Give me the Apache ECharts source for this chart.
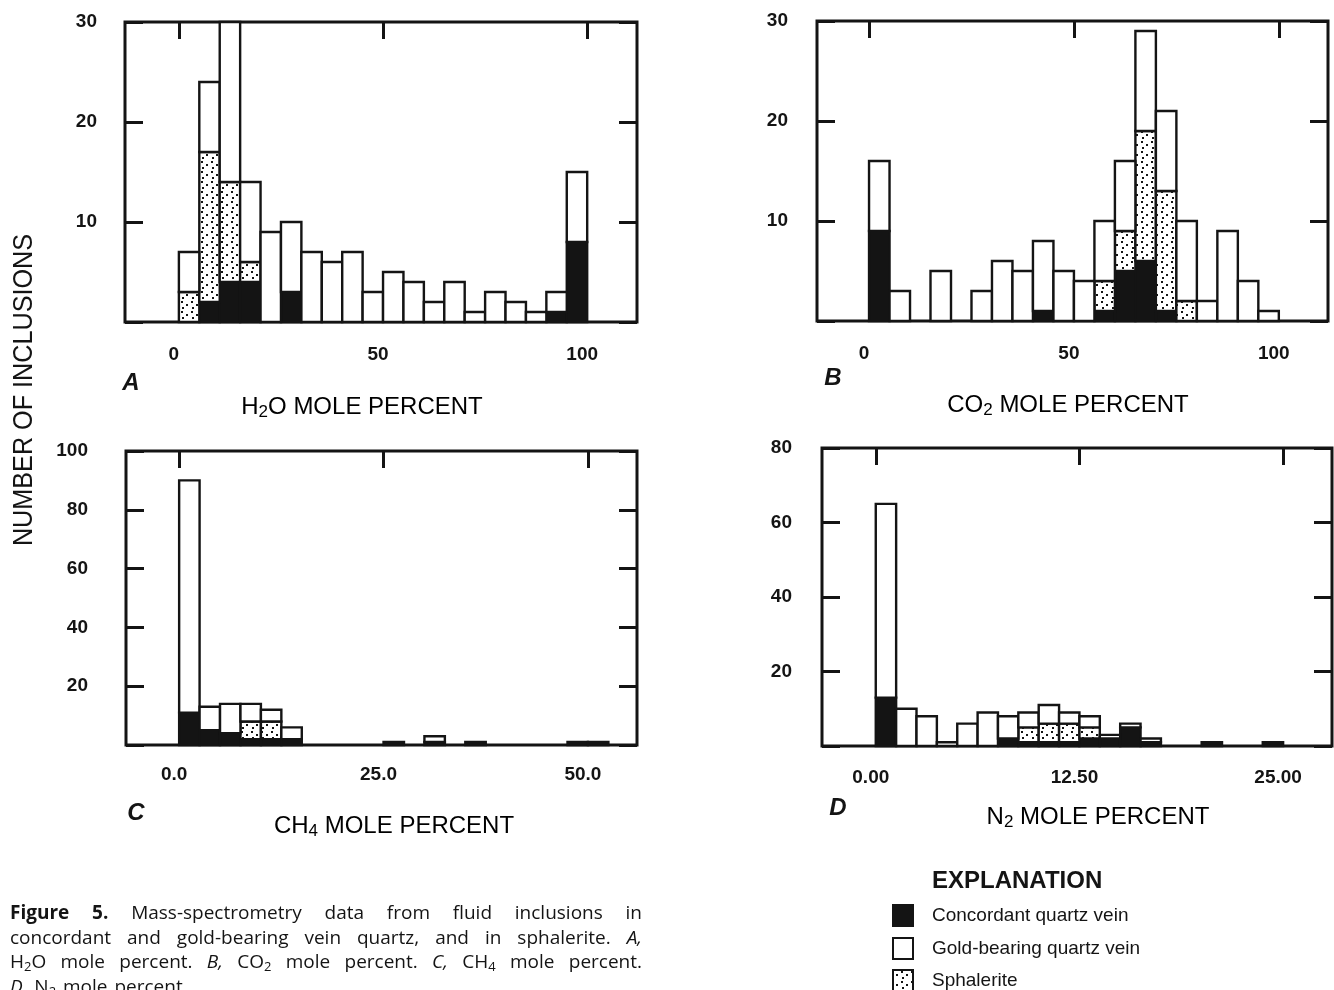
<!DOCTYPE html>
<html>
<head>
<meta charset="utf-8">
<script src="https://cdn.jsdelivr.net/npm/echarts@6.0.0/dist/echarts.min.js"></script>
<style>
  html, body { margin: 0; padding: 0; background: #fff; }
  #chart { width: 1334px; height: 990px; }
</style>
</head>
<body>
<div id="chart"></div>
<script>
// --- data (left edge of each class, number of inclusions per class) ---
const binsA = [0, 5, 10, 15, 20, 25, 30, 35, 40, 45, 50, 55, 60, 65, 70, 75, 80, 85, 90, 95];
const blackA = [0, 2, 4, 4, 0, 3, 0, 0, 0, 0, 0, 0, 0, 0, 0, 0, 0, 0, 1, 8];
const sphA   = [3, 15, 10, 2, 0, 0, 0, 0, 0, 0, 0, 0, 0, 0, 0, 0, 0, 0, 0, 0];
const goldA  = [4, 7, 16, 8, 9, 7, 7, 6, 7, 3, 5, 4, 2, 4, 1, 3, 2, 1, 2, 7];

const binsB = [0, 5, 10, 15, 20, 25, 30, 35, 40, 45, 50, 55, 60, 65, 70, 75, 80, 85, 90, 95];
const blackB = [9, 0, 0, 0, 0, 0, 0, 0, 1, 0, 0, 1, 5, 6, 1, 0, 0, 0, 0, 0];
const sphB   = [0, 0, 0, 0, 0, 0, 0, 0, 0, 0, 0, 3, 4, 13, 12, 2, 0, 0, 0, 0];
const goldB  = [7, 3, 0, 5, 0, 3, 6, 5, 7, 5, 4, 6, 7, 10, 8, 8, 2, 9, 4, 1];

const binsC = [0, 2.5, 5, 7.5, 10, 12.5, 15, 17.5, 20, 22.5, 25, 27.5, 30, 32.5, 35, 37.5, 40, 42.5, 45, 47.5, 50];
const blackC = [11, 5, 4, 2, 2, 2, 0, 0, 0, 0, 1, 0, 1, 0, 1, 0, 0, 0, 0, 1, 1];
const sphC   = [0, 0, 0, 6, 6, 0, 0, 0, 0, 0, 0, 0, 0, 0, 0, 0, 0, 0, 0, 0, 0];
const goldC  = [79, 8, 10, 6, 4, 4, 0, 0, 0, 0, 0, 0, 2, 0, 0, 0, 0, 0, 0, 0, 0];

const binsD = [0, 1.25, 2.5, 3.75, 5, 6.25, 7.5, 8.75, 10, 11.25, 12.5, 13.75, 15, 16.25, 17.5, 18.75, 20, 21.25, 22.5, 23.75];
const blackD = [13, 0, 0, 0, 0, 0, 2, 1, 1, 1, 2, 2, 5, 1, 0, 0, 1, 0, 0, 1];
const sphD   = [0, 0, 0, 0, 0, 0, 0, 4, 5, 5, 3, 0, 0, 0, 0, 0, 0, 0, 0, 0];
const goldD  = [52, 10, 8, 1, 6, 9, 6, 4, 5, 3, 3, 1, 1, 1, 0, 0, 0, 0, 0, 0];

// tick values and their labels
const ticksA = [0, 50, 100];
const labelsA = ['0', '50', '100'];
const ticksB = [0, 50, 100];
const labelsB = ['0', '50', '100'];
const ticksC = [0, 25, 50];
const labelsC = ['0.0', '25.0', '50.0'];
const ticksD = [0, 12.5, 25];
const labelsD = ['0.00', '12.50', '25.00'];

const INK = '#141414';
const tickFont = { fontFamily: 'Liberation Sans', fontWeight: 'bold', fontSize: 19, color: INK };

// dotted fill for sphalerite
function dotPattern() {
    let c = document.createElement('canvas');
    c.width = 10;
    c.height = 10;
    let g = c.getContext('2d');
    g.fillStyle = '#fff';
    g.fillRect(0, 0, 10, 10);
    g.fillStyle = INK;
    [[1, 1], [6, 4], [2, 7]].forEach(p => g.fillRect(p[0], p[1], 2, 2));
    return c;
}
const dots = { type: 'pattern', image: dotPattern(), repeat: 'repeat' };

function stacked(gi, bins, width, black, sph, gold) {
    const layers = [
        { name: 'Concordant quartz vein', vals: black, fill: INK },
        { name: 'Sphalerite', vals: sph, fill: dots },
        { name: 'Gold-bearing quartz vein', vals: gold, fill: '#fff' }
    ];
    let base = bins.map(() => 0);
    return layers.map(l => {
        let data = [];
        bins.forEach((b, i) => {
            if (l.vals[i] > 0) data.push([b, base[i], base[i] + l.vals[i]]);
            base[i] += l.vals[i];
        });
        return {
            type: 'custom',
            name: l.name,
            xAxisIndex: gi * 2,
            yAxisIndex: gi * 2,
            data: data,
            renderItem: (params, api) => {
                const p0 = api.coord([api.value(0), api.value(1)]);
                const p1 = api.coord([api.value(0) + width, api.value(2)]);
                return {
                    type: 'rect',
                    shape: { x: p0[0], y: p1[1], width: p1[0] - p0[0], height: p0[1] - p1[1] },
                    style: { fill: l.fill, stroke: INK, lineWidth: 2.4 }
                };
            }
        };
    });
}

function xAxes(gi, min, max, ticks, labels, margin) {
    return [
        {
            type: 'value', gridIndex: gi, position: 'bottom', min: min, max: max,
            axisLine: { show: false, onZero: false }, axisTick: { show: false }, splitLine: { show: false },
            axisLabel: Object.assign({
                customValues: ticks, margin: margin, padding: [0, 10, 0, 0],
                formatter: v => labels[ticks.indexOf(v)]
            }, tickFont)
        },
        {
            type: 'value', gridIndex: gi, position: 'top', min: min, max: max,
            axisLine: { show: false, onZero: false }, splitLine: { show: false }, axisLabel: { show: false },
            axisTick: { show: true, inside: true, length: 17, customValues: ticks, lineStyle: { color: INK, width: 3 } }
        }
    ];
}

function yAxes(gi, max, interval, margin) {
    const tick = { show: true, inside: true, length: 18, lineStyle: { color: INK, width: 3 } };
    return [
        {
            type: 'value', gridIndex: gi, position: 'left', min: 0, max: max, interval: interval,
            axisLine: { show: false, onZero: false }, splitLine: { show: false }, axisTick: tick,
            axisLabel: Object.assign({ margin: margin, formatter: v => v === 0 ? '' : String(v) }, tickFont)
        },
        {
            type: 'value', gridIndex: gi, position: 'right', min: 0, max: max, interval: interval,
            axisLine: { show: false, onZero: false }, splitLine: { show: false }, axisTick: tick,
            axisLabel: { show: false }
        }
    ];
}

const titleRich = {
    m: { fontFamily: 'Liberation Sans', fontSize: 24, lineHeight: 27, color: INK },
    s: { fontFamily: 'Liberation Sans', fontSize: 17, lineHeight: 17, color: INK, verticalAlign: 'bottom' }
};
function axisTitle(x, y, text) {
    return { type: 'text', x: x, y: y, style: { text: text, rich: titleRich, align: 'center', verticalAlign: 'middle' } };
}
function panelLetter(x, y, t) {
    return {
        type: 'text', x: x, y: y,
        style: { text: t, font: 'italic bold 24px "Liberation Sans"', fill: INK, align: 'center', verticalAlign: 'middle' }
    };
}

// caption, justified word by word
const capSize = 19;
const capFam = '"Open Sans"';
const capFonts = {
    n: `${capSize}px ${capFam}`,
    b: `bold ${capSize}px ${capFam}`,
    i: `italic ${capSize}px ${capFam}`,
    s: `${Math.round(capSize * 0.7)}px ${capFam}`
};
const captionLines = [
    [[['b', 'Figure']], [['b', '5.']], [['n', 'Mass-spectrometry']], [['n', 'data']], [['n', 'from']], [['n', 'fluid']], [['n', 'inclusions']], [['n', 'in']]],
    [[['n', 'concordant']], [['n', 'and']], [['n', 'gold-bearing']], [['n', 'vein']], [['n', 'quartz,']], [['n', 'and']], [['n', 'in']], [['n', 'sphalerite.']], [['i', 'A,']]],
    [[['n', 'H'], ['s', '2'], ['n', 'O']], [['n', 'mole']], [['n', 'percent.']], [['i', 'B,']], [['n', 'CO'], ['s', '2']], [['n', 'mole']], [['n', 'percent.']], [['i', 'C,']], [['n', 'CH'], ['s', '4']], [['n', 'mole']], [['n', 'percent.']]],
    [[['i', 'D,']], [['n', 'N'], ['s', '2']], [['n', 'mole']], [['n', 'percent.']]]
];
const capRich = {
    n: { font: capFonts.n, fill: INK, lineHeight: 22 },
    b: { font: capFonts.b, fill: INK, lineHeight: 22 },
    i: { font: capFonts.i, fill: INK, lineHeight: 22 },
    s: { font: capFonts.s, fill: INK, lineHeight: 13, verticalAlign: 'bottom' }
};
function captionGraphics(x0, x1, y0, dy) {
    let ctx = document.createElement('canvas').getContext('2d');
    let out = [];
    captionLines.forEach((words, li) => {
        const widths = words.map(w => w.reduce((s, seg) => { ctx.font = capFonts[seg[0]]; return s + ctx.measureText(seg[1]).width; }, 0));
        const total = widths.reduce((a, b) => a + b, 0);
        const last = li === captionLines.length - 1;
        ctx.font = capFonts.n;
        const gap = last ? ctx.measureText(' ').width + 2 : (x1 - x0 - total) / (words.length - 1);
        let x = x0;
        words.forEach((w, wi) => {
            out.push({
                type: 'text', x: x, y: y0 + li * dy,
                style: { text: w.map(seg => `{${seg[0]}|${seg[1]}}`).join(''), rich: capRich, align: 'left', verticalAlign: 'middle' }
            });
            x += widths[wi] + gap;
        });
    });
    return out;
}

function legendGraphics() {
    const lx = 893, tx = 932;
    const items = [
        { y: 905, fill: INK, label: 'Concordant quartz vein' },
        { y: 938, fill: '#fff', label: 'Gold-bearing quartz vein' },
        { y: 970, fill: dots, label: 'Sphalerite' }
    ];
    let out = [{
        type: 'text', x: tx, y: 881,
        style: { text: 'EXPLANATION', font: 'bold 24px "Liberation Sans"', fill: INK, verticalAlign: 'middle' }
    }];
    items.forEach(it => {
        out.push({ type: 'rect', shape: { x: lx, y: it.y, width: 20, height: 21 }, style: { fill: it.fill, stroke: INK, lineWidth: 2 } });
        out.push({
            type: 'text', x: tx, y: it.y + 11,
            style: { text: it.label, font: '19px "Liberation Sans"', fill: INK, verticalAlign: 'middle' }
        });
    });
    return out;
}

const gridBase = { show: true, borderColor: INK, borderWidth: 3, backgroundColor: '#fff', containLabel: false, outerBoundsMode: 'none' };

const option = {
    backgroundColor: '#fff',
    animation: false,
    grid: [
        { left: 125, top: 22, width: 512, height: 300 },
        { left: 817, top: 21, width: 511, height: 300 },
        { left: 126, top: 451, width: 511, height: 294 },
        { left: 822, top: 448, width: 510, height: 298 }
    ].map(g => Object.assign({}, gridBase, g)),
    xAxis: [].concat(
        xAxes(0, -13.2, 112.2, ticksA, labelsA, 23),
        xAxes(1, -12.7, 112, ticksB, labelsB, 23),
        xAxes(2, -6.5, 56, ticksC, labelsC, 20),
        xAxes(3, -3.3, 28, ticksD, labelsD, 22)
    ),
    yAxis: [].concat(
        yAxes(0, 30, 10, 28),
        yAxes(1, 30, 10, 29),
        yAxes(2, 100, 20, 38),
        yAxes(3, 80, 20, 30)
    ),
    series: [].concat(
        stacked(0, binsA, 5, blackA, sphA, goldA),
        stacked(1, binsB, 5, blackB, sphB, goldB),
        stacked(2, binsC, 2.5, blackC, sphC, goldC),
        stacked(3, binsD, 1.25, blackD, sphD, goldD)
    ),
    graphic: [].concat(
        [
            {
                type: 'text', x: 24, y: 390, rotation: Math.PI / 2, scaleX: 0.9,
                style: { text: 'NUMBER OF INCLUSIONS', font: '28px "Liberation Sans"', fill: INK, align: 'center', verticalAlign: 'middle' }
            },
            axisTitle(362, 407, '{m|H}{s|2}{m|O MOLE PERCENT}'),
            axisTitle(1068, 405, '{m|CO}{s|2}{m| MOLE PERCENT}'),
            axisTitle(394, 826, '{m|CH}{s|4}{m| MOLE PERCENT}'),
            axisTitle(1098, 817, '{m|N}{s|2}{m| MOLE PERCENT}'),
            panelLetter(131, 383, 'A'),
            panelLetter(833, 378, 'B'),
            panelLetter(136, 813, 'C'),
            panelLetter(838, 808, 'D')
        ],
        captionGraphics(10, 642, 914, 24.5),
        legendGraphics()
    )
};

let chart = echarts.init(document.getElementById('chart'));
chart.setOption(option);
</script>
</body>
</html>
